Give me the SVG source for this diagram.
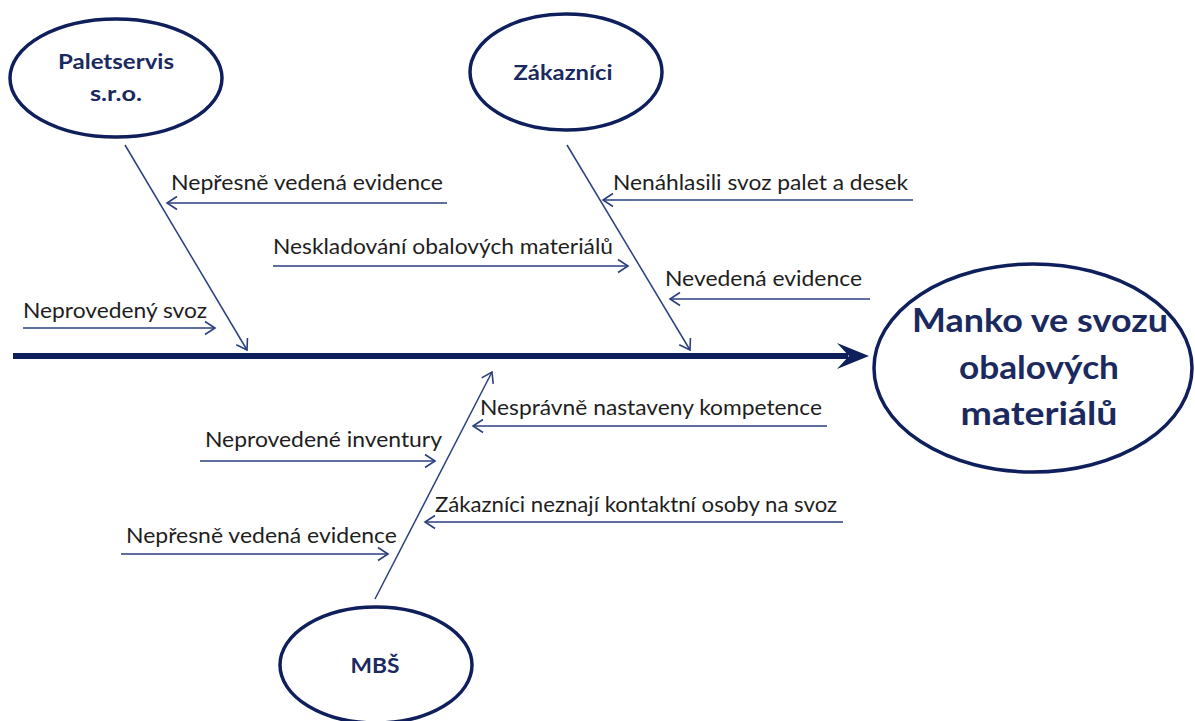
<svg xmlns="http://www.w3.org/2000/svg" width="1195" height="721" viewBox="0 0 1195 721">
<style>
.node{fill:#fff;stroke:#0f1f5c;stroke-width:3.5}
.nlabel{font-family:Lato,"Open Sans",sans-serif;font-weight:bold;fill:#1b2a5e;text-anchor:middle}
.bone{stroke:#2b3f80;stroke-width:1.5;fill:none}
.cause{stroke:#2b3f80;stroke-width:1.6;fill:none}
.ctext{font-family:Lato,"Open Sans",sans-serif;font-size:21.5px;fill:#1e1e1e}
</style>
<defs>
<marker id="open" markerUnits="userSpaceOnUse" markerWidth="16" markerHeight="16" refX="13" refY="8" orient="auto">
<path d="M3,1.5 L13,8 L3,14.5" fill="none" stroke="#2b3f80" stroke-width="1.6"/>
</marker>
<filter id="blur" x="-5%" y="-100%" width="110%" height="300%"><feGaussianBlur stdDeviation="2"/></filter>
</defs>
<rect width="1195" height="721" fill="#fff"/>
<g id="connectors">
<path d="M15,361 L842,361" stroke="#000" stroke-opacity="0.3" stroke-width="5" fill="none" filter="url(#blur)"/>
<path id="spine" d="M13,356 L848,356" stroke="#0f1f5c" stroke-width="6" fill="none"/>
<path d="M869,356 L837,343 L849,356 L837,369 Z" fill="#0f1f5c"/>
<line class="bone" x1="125" y1="145" x2="247" y2="350" marker-end="url(#open)"/>
<line class="bone" x1="567" y1="145" x2="690" y2="350" marker-end="url(#open)"/>
<line class="bone" x1="375" y1="599" x2="492" y2="372" marker-end="url(#open)"/>
<line class="cause" x1="447" y1="203" x2="167" y2="203" marker-end="url(#open)"/>
<line class="cause" x1="273" y1="266" x2="628" y2="266" marker-end="url(#open)"/>
<line class="cause" x1="23" y1="328" x2="215" y2="328" marker-end="url(#open)"/>
<line class="cause" x1="913" y1="200" x2="603" y2="200" marker-end="url(#open)"/>
<line class="cause" x1="870" y1="299" x2="670" y2="299" marker-end="url(#open)"/>
<line class="cause" x1="827" y1="426" x2="473" y2="426" marker-end="url(#open)"/>
<line class="cause" x1="200" y1="461" x2="435" y2="461" marker-end="url(#open)"/>
<line class="cause" x1="843" y1="522" x2="425" y2="522" marker-end="url(#open)"/>
<line class="cause" x1="121" y1="554" x2="388" y2="554" marker-end="url(#open)"/>
</g>
<g id="causes">
<text class="ctext" x="171" y="190" textLength="272" lengthAdjust="spacingAndGlyphs">Nepřesně vedená evidence</text>
<text class="ctext" x="273" y="254" textLength="340" lengthAdjust="spacingAndGlyphs">Neskladování obalových materiálů</text>
<text class="ctext" x="23" y="318" textLength="184" lengthAdjust="spacingAndGlyphs">Neprovedený svoz</text>
<text class="ctext" x="613" y="190" textLength="295" lengthAdjust="spacingAndGlyphs">Nenáhlasili svoz palet a desek</text>
<text class="ctext" x="665" y="286" textLength="197" lengthAdjust="spacingAndGlyphs">Nevedená evidence</text>
<text class="ctext" x="480" y="415" textLength="342" lengthAdjust="spacingAndGlyphs">Nesprávně nastaveny kompetence</text>
<text class="ctext" x="205" y="447" textLength="237" lengthAdjust="spacingAndGlyphs">Neprovedené inventury</text>
<text class="ctext" x="435" y="512" textLength="402" lengthAdjust="spacingAndGlyphs">Zákazníci neznají kontaktní osoby na svoz</text>
<text class="ctext" x="126" y="543" textLength="271" lengthAdjust="spacingAndGlyphs">Nepřesně vedená evidence</text>
</g>
<g id="node-paletservis">
<ellipse class="node" cx="116" cy="78" rx="106" ry="59"/>
<text class="nlabel" x="116" y="69" font-size="21" textLength="116" lengthAdjust="spacingAndGlyphs">Paletservis</text>
<text class="nlabel" x="116" y="101" font-size="21" textLength="52" lengthAdjust="spacingAndGlyphs">s.r.o.</text>
</g>
<g id="node-zakaznici">
<ellipse class="node" cx="566" cy="72" rx="96" ry="58"/>
<text class="nlabel" x="563" y="80" font-size="21" textLength="99" lengthAdjust="spacingAndGlyphs">Zákazníci</text>
</g>
<g id="node-mbs">
<ellipse class="node" cx="376" cy="665" rx="96" ry="58"/>
<text class="nlabel" x="375" y="673" font-size="21" textLength="49" lengthAdjust="spacingAndGlyphs">MBŠ</text>
</g>
<g id="node-effect">
<ellipse class="node" cx="1033" cy="368" rx="159" ry="104"/>
<text class="nlabel" x="1040" y="332" font-size="32" textLength="256" lengthAdjust="spacingAndGlyphs">Manko ve svozu</text>
<text class="nlabel" x="1039" y="379" font-size="32" textLength="160" lengthAdjust="spacingAndGlyphs">obalových</text>
<text class="nlabel" x="1039" y="425" font-size="32" textLength="157" lengthAdjust="spacingAndGlyphs">materiálů</text>
</g>
</svg>
